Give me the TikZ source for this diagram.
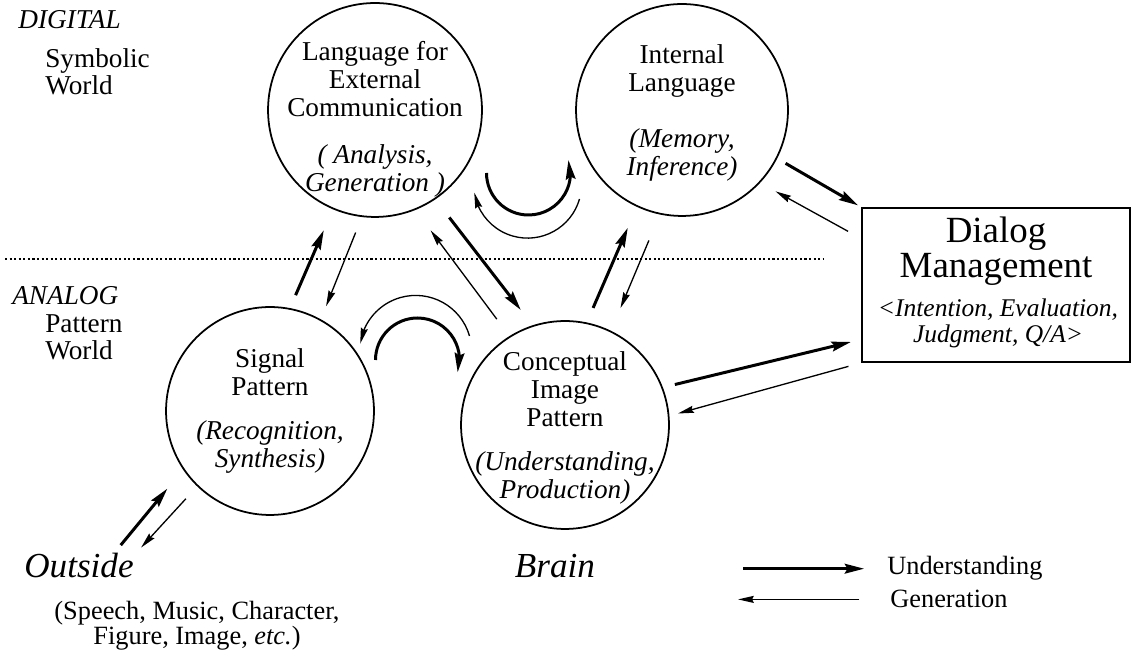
\documentclass[tikz,border=0pt]{standalone}
\usepackage{fontspec}
\setmainfont{Liberation Serif}
\usetikzlibrary{arrows.meta,calc,bending}

\begin{document}
\begin{tikzpicture}[x=0.02cm, y=0.02cm,
  bubble/.style={draw, circle, line width=1pt, inner sep=0pt},
  bubbletext/.style={align=center, inner sep=0pt, font=\fontsize{15.5}{15.9}\selectfont},
  dialogbox/.style={draw, line width=1pt, minimum width=5.36cm, minimum height=3.08cm},
  understand/.style={line width=1.7pt, -{Stealth[length=11pt, width=5.5pt, inset=1.5pt]}},
  generate/.style={line width=0.75pt, -{Stealth[length=9pt, width=4pt, inset=1pt]}},
  worldhead/.style={font=\itshape\fontsize{15.5}{15.9}\selectfont, inner sep=0pt, anchor=base west},
  worldname/.style={font=\fontsize{15.5}{15.3}\selectfont, inner sep=0pt, anchor=north west, align=left},
  place/.style={font=\itshape\fontsize{20}{24}\selectfont, inner sep=0pt, anchor=base},
  legend/.style={font=\fontsize{15}{18}\selectfont, inner sep=0pt, anchor=base west},
  dotline/.style={line width=1.2pt, dash pattern=on 1.2pt off 1.4pt}
]
  \useasboundingbox (0,0) rectangle (1132,652);

  \node[worldhead] (digital) at (18,623) {DIGITAL};
  \node[worldname] (symbolic) at (45,604) {Symbolic\\World};
  \node[worldhead] (analog) at (12,347) {ANALOG};
  \node[worldname] (pattern) at (45,338) {Pattern\\World};
  \draw[dotline] (5,393) -- (823,393);

  \node[bubble, minimum size=4.28cm] (L) at (375,542) {};
  \node[bubble, minimum size=4.24cm] (I) at (682,542) {};
  \node[bubble, minimum size=4.16cm] (S) at (270,241) {};
  \node[bubble, minimum size=4.16cm] (C) at (565,227) {};

  \node[bubbletext] (Ltext) at (375,533) {Language for\\External\\Communication\\[11pt]\textit{( Analysis,}\\\textit{Generation )}};
  \node[bubbletext] (Itext) at (682,539) {Internal\\Language\\[16pt]\textit{(Memory,}\\\textit{Inference)}};
  \node[bubbletext] (Stext) at (270,241) {Signal\\Pattern\\[9.5pt]\textit{(Recognition,}\\\textit{Synthesis)}};
  \node[bubbletext] (Ctext) at (565,224) {Conceptual\\Image\\Pattern\\[9pt]\textit{(Understanding,}\\\textit{Production)}};

  \node[dialogbox] (D) at (996,367) {};
  \node[font=\fontsize{21}{19.5}\selectfont, align=center, inner sep=0pt, anchor=north] (Dtitle) at (996,435) {Dialog\\Management};
  \node[font=\itshape\fontsize{14.5}{15.3}\selectfont, align=center, inner sep=0pt, anchor=north] (Dsub) at (998,354) {<Intention, Evaluation,\\Judgment, Q/A>};

  \node[place] (outside) at (79,74) {Outside};
  \node[font=\fontsize{15}{14.2}\selectfont, align=center, inner sep=0pt, anchor=north] (media) at (197,51) {(Speech, Music, Character,\\Figure, Image, \textit{etc.})};
  \node[place] (brain) at (555,74) {Brain};

  \draw[understand, shorten <=8pt, shorten >=13pt] (S.79) -- (L.247);
  \draw[generate, shorten <=9.5pt, shorten >=8pt] (L.263) -- (S.61);
  \draw[understand, shorten <=13pt, shorten >=11pt] (L.304) -- (C.108);
  \draw[generate, shorten <=12pt, shorten >=14.5pt] (C.122) -- (L.292);
  \draw[understand, shorten <=9pt, shorten >=13pt] (C.78) -- (I.245);
  \draw[generate, shorten <=16pt, shorten >=14pt] (I.258) -- (C.64);
  \draw[understand, shorten <=5.5pt, shorten >=2pt] (I.333) -- (D.150);
  \draw[generate, shorten <=8.5pt, shorten >=10pt] (D.161) -- (I.317);
  \draw[understand, shorten <=7pt, shorten >=6pt] (C.21) -- (D.202);
  \draw[generate, shorten <=7.5pt, shorten >=5pt] (D.south west) -- (C.5);
  \draw[understand, shorten <=6pt, shorten >=14pt] (outside.20) -- (S.214);
  \draw[generate, shorten <=9.5pt, shorten >=6pt] (S.226) -- (outside.11);

  \coordinate (LIhub) at ($(L)!0.5!(I)$);
  \coordinate (SChub) at ($(S)!0.5!(C)$);
  \draw[understand] ([shift={(-42,-63)}]LIhub) arc[start angle=180, end angle=378, radius=42];
  \draw[generate] ([shift={(51,-89)}]LIhub) arc[start angle=-16, end angle=-171, radius=54];
  \draw[generate] ([shift={(52,82)}]SChub) arc[start angle=16, end angle=172, radius=56];
  \draw[understand] ([shift={(-42,58)}]SChub) arc[start angle=180, end angle=-17, radius=42];

  \node[legend] (und) at (887,77) {Understanding};
  \node[legend] (gen) at (890,44) {Generation};
  \coordinate (u0) at (743,0);
  \coordinate (g0) at (738,0);
  \draw[understand, shorten >=13pt] (u0 |- und.west) -- (und.west);
  \draw[generate, shorten <=17.5pt] (gen.west) -- (g0 |- gen.west);
\end{tikzpicture}
\end{document}
